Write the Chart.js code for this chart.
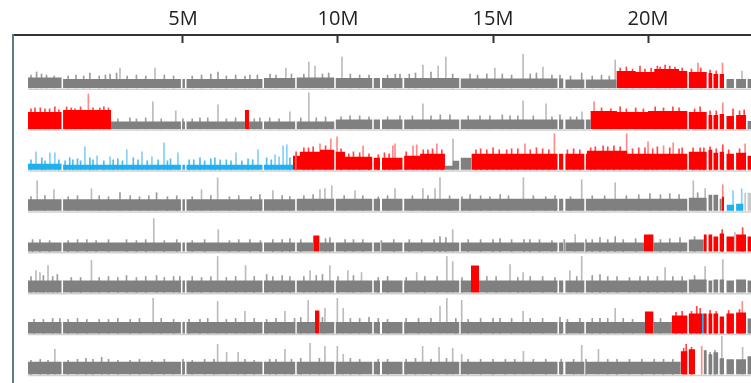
<!DOCTYPE html>
<html>
<head>
<meta charset="utf-8">
<script src="https://cdn.jsdelivr.net/npm/chart.js@4.4.0/dist/chart.umd.min.js"></script>
<style>
  html, body { margin: 0; padding: 0; background: #fff; }
</style>
</head>
<body>
<canvas id="chart" width="751" height="383"></canvas>
<script>
// axis
const tickValues = [5, 10, 15, 20];
const tickLabels = ['5M', '10M', '15M', '20M'];
const chromLength = 23.32;   // Mb
const xMin = -0.48;

// assembly gaps shared by all tracks [start, end] in Mb
const gaps = [
  [1.085, 1.135], [4.935, 4.985], [5.065, 5.115], [7.565, 7.615], [8.62, 8.67],
  [9.88, 9.93], [11.105, 11.155], [11.355, 11.42], [12.08, 12.135], [13.91, 13.96],
  [17.08, 17.13], [17.265, 17.335], [17.945, 17.995], [21.265, 21.315],
  [21.89, 21.95], [22.07, 22.11], [22.26, 22.31], [22.45, 22.53], [22.77, 22.84], [23.16, 23.21]
];

// segments: [start Mb, end Mb, depth, state]  g = normal, r = gain, b = loss, l = low
const track1Segments = [
  [0, 1.11, 10.5, 'g'], [1.11, 4.96, 9, 'g'], [4.96, 7.59, 9, 'g'], [7.59, 8.65, 10, 'g'],
  [8.65, 9.90, 10.5, 'g'], [9.90, 13.94, 10, 'g'], [13.94, 17.30, 9.5, 'g'], [17.30, 18.98, 8.5, 'g'],
  [18.98, 19.60, 17, 'r'], [19.60, 20.20, 16, 'r'], [20.20, 21.00, 19, 'r'], [21.00, 21.29, 17, 'r'],
  [21.29, 21.89, 16, 'r'], [21.95, 22.07, 15, 'r'], [22.11, 22.26, 14, 'r'], [22.31, 22.45, 14, 'r'],
  [22.53, 23.32, 9, 'g']
];
const track2Segments = [
  [0, 1.11, 17, 'r'], [1.11, 2.68, 19, 'r'], [2.68, 7.00, 7.5, 'g'], [7.00, 7.13, 19, 'r'],
  [7.13, 9.90, 7.5, 'g'], [9.90, 18.15, 9.5, 'g'], [18.15, 19.00, 18, 'r'], [19.00, 20.00, 17, 'r'],
  [20.00, 21.29, 18, 'r'], [21.29, 21.89, 17, 'r'], [21.95, 22.07, 14, 'r'], [22.11, 22.26, 14, 'r'],
  [22.31, 22.45, 15, 'r'], [22.53, 22.77, 13, 'r'], [22.84, 23.16, 14, 'r'], [23.21, 23.32, 8, 'g']
];
const track3Segments = [
  [0, 1.11, 6, 'b'], [1.11, 8.55, 5, 'b'], [8.55, 8.77, 14, 'r'], [8.77, 9.42, 18, 'r'],
  [9.42, 9.90, 20, 'r'], [9.90, 10.23, 18, 'r'], [10.23, 11.13, 13, 'r'], [11.13, 12.10, 12, 'r'],
  [12.10, 12.65, 14, 'r'], [12.65, 13.45, 16, 'r'], [13.45, 13.70, 4, 'g'], [13.70, 13.94, 9, 'g'],
  [13.94, 14.31, 12, 'g'], [14.31, 17.32, 16, 'r'], [17.32, 18.03, 16, 'r'], [18.03, 19.32, 19, 'r'],
  [19.32, 21.29, 16, 'r'], [21.29, 21.89, 18, 'r'], [21.95, 22.07, 20, 'r'], [22.11, 22.26, 17, 'r'],
  [22.31, 22.45, 18, 'r'], [22.53, 22.77, 16, 'r'], [22.84, 23.16, 17, 'r'], [23.21, 23.32, 14, 'r']
];
const track4Segments = [
  [0, 8.65, 11.5, 'g'], [8.65, 21.29, 12, 'g'], [21.29, 21.89, 13, 'g'], [21.95, 22.07, 16, 'g'],
  [22.11, 22.26, 16, 'g'], [22.31, 22.38, 12, 'g'], [22.38, 22.45, 14, 'r'], [22.53, 22.77, 6, 'b'],
  [22.84, 23.08, 7, 'b'], [23.10, 23.32, 18, 'l']
];
const track5Segments = [
  [0, 9.20, 9, 'g'], [9.20, 9.40, 16, 'r'], [9.40, 19.87, 9, 'g'], [19.87, 20.17, 17, 'r'],
  [20.17, 21.29, 9, 'g'], [21.29, 21.80, 12, 'g'], [21.80, 21.89, 17, 'r'], [21.95, 22.07, 17, 'r'],
  [22.11, 22.26, 15, 'r'], [22.31, 22.45, 18, 'r'], [22.53, 22.77, 15, 'r'], [22.84, 23.16, 17, 'r'],
  [23.21, 23.32, 15, 'r']
];
const track6Segments = [
  [0, 14.29, 12, 'g'], [14.29, 14.55, 27, 'r'], [14.55, 21.29, 12, 'g'], [21.29, 21.89, 13, 'g'],
  [21.95, 22.07, 12, 'g'], [22.11, 22.26, 13, 'g'], [22.31, 22.45, 13, 'g'], [22.53, 22.77, 12, 'g'],
  [22.84, 23.16, 13, 'g'], [23.21, 23.32, 12, 'g']
];
const track7Segments = [
  [0, 9.26, 11.5, 'g'], [9.26, 9.40, 23, 'r'], [9.40, 19.90, 11.5, 'g'], [19.90, 20.17, 22, 'r'],
  [20.17, 20.77, 11.5, 'g'], [20.77, 21.29, 18, 'r'], [21.29, 21.74, 20, 'r'], [21.74, 21.78, 20, 'b'],
  [21.78, 21.89, 20, 'r'], [21.95, 22.07, 20, 'r'], [22.11, 22.26, 20, 'r'], [22.31, 22.45, 17, 'r'],
  [22.53, 22.77, 20, 'r'], [22.84, 23.16, 21, 'r'], [23.21, 23.32, 15, 'g']
];
const track8Segments = [
  [0, 21.05, 12.5, 'g'], [21.05, 21.29, 23, 'r'], [21.29, 21.52, 25, 'r'], [21.80, 21.89, 24, 'g'],
  [21.95, 22.07, 20, 'g'], [22.11, 22.26, 22, 'g'], [22.31, 22.45, 16, 'g'], [22.53, 22.77, 15, 'g'],
  [22.84, 23.16, 15, 'g'], [23.21, 23.32, 18, 'g']
];

// single-bin peaks: [position Mb, depth, state (optional)]
const track1Spikes = [
  [0.10, 13], [0.28, 16], [0.44, 14], [0.60, 13], [0.85, 12], [1.30, 12], [1.55, 13], [1.80, 12],
  [2.00, 15], [2.30, 12], [2.50, 13], [2.65, 14], [2.86, 15], [2.97, 20], [3.20, 12], [3.50, 13],
  [3.80, 12], [4.10, 20], [4.40, 13], [4.70, 12], [5.30, 12], [5.60, 13], [5.90, 14], [6.13, 16],
  [6.40, 12], [6.70, 13], [7.00, 12], [7.16, 13], [7.40, 13], [7.81, 14], [8.00, 13], [8.32, 20],
  [8.50, 14], [8.90, 14], [9.06, 26], [9.26, 22], [9.50, 14], [9.70, 15], [10.13, 31], [10.40, 14],
  [10.70, 13], [11.00, 13], [11.60, 13], [11.85, 14], [12.00, 14], [12.30, 14], [12.50, 15], [12.74, 23],
  [13.00, 16], [13.23, 22], [13.48, 31], [13.70, 14], [14.26, 14], [14.50, 13], [14.80, 14], [15.06, 20],
  [15.30, 14], [15.60, 13], [15.97, 34], [16.20, 14], [16.40, 15], [16.61, 21], [16.90, 13], [17.16, 13],
  [17.50, 12], [17.86, 15], [18.20, 12], [18.50, 13], [18.75, 12], [18.94, 28], [19.10, 20], [19.30, 21],
  [19.50, 19], [19.74, 22], [19.90, 19], [20.10, 20], [20.30, 22], [20.39, 21], [20.55, 23], [20.70, 22],
  [20.87, 21], [21.10, 20], [21.40, 19], [21.61, 25], [21.70, 20], [22.00, 18], [22.20, 17], [22.40, 25],
  [23.03, 17]
];
const track2Spikes = [
  [0.10, 20], [0.23, 21], [0.40, 21], [0.55, 20], [0.70, 20], [0.87, 22], [1.00, 19], [1.25, 22],
  [1.40, 21], [1.52, 20], [1.70, 22], [1.95, 35], [2.10, 21], [2.32, 21], [2.45, 22], [2.60, 21],
  [2.90, 10], [3.29, 11], [3.50, 10], [3.80, 11], [4.03, 27], [4.30, 10], [4.77, 18], [5.00, 10],
  [5.30, 10], [5.55, 11], [5.80, 11], [6.13, 24], [6.40, 10], [6.70, 11], [7.30, 10], [7.48, 11],
  [7.80, 11], [8.10, 10], [8.45, 17], [8.80, 11], [9.06, 36], [9.30, 11], [9.60, 12], [10.10, 12],
  [10.39, 13], [10.70, 13], [11.00, 12], [11.60, 12], [12.00, 13], [12.40, 13], [12.74, 25], [13.00, 13],
  [13.30, 14], [13.61, 14], [14.20, 13], [14.58, 13], [14.90, 13], [15.30, 14], [15.55, 13], [15.80, 13],
  [15.97, 28], [16.30, 13], [16.71, 25], [16.90, 12], [17.16, 14], [17.50, 12], [17.70, 12], [17.87, 17],
  [18.26, 27], [18.50, 21], [18.80, 20], [19.10, 22], [19.30, 20], [19.60, 21], [19.85, 20], [20.23, 22],
  [20.50, 21], [20.80, 22], [21.00, 21], [21.50, 20], [21.68, 22], [22.00, 18], [22.20, 18], [22.41, 26],
  [22.74, 20], [22.95, 18], [23.10, 19]
];
const track3Spikes = [
  [0.10, 10], [0.26, 18], [0.45, 12], [0.55, 9], [0.71, 17], [0.87, 17], [1.00, 10], [1.20, 9],
  [1.35, 12], [1.45, 10], [1.60, 11], [1.70, 9], [1.84, 23], [2.00, 12], [2.10, 10], [2.23, 14],
  [2.45, 9], [2.65, 13], [2.75, 10], [2.90, 11], [3.05, 9], [3.19, 20], [3.40, 12], [3.55, 10],
  [3.68, 18], [3.85, 9], [4.00, 13], [4.20, 10], [4.39, 27], [4.50, 9], [4.60, 11], [4.84, 17],
  [5.20, 10], [5.35, 10], [5.55, 12], [5.70, 9], [5.90, 11], [6.03, 12], [6.20, 10], [6.40, 10],
  [6.55, 9], [6.71, 17], [6.90, 9], [7.10, 11], [7.25, 10], [7.42, 20], [7.70, 12], [7.85, 10],
  [7.97, 15], [8.10, 13], [8.23, 24], [8.35, 25], [8.45, 12], [8.65, 18], [8.90, 22], [9.05, 22],
  [9.20, 23], [9.42, 26], [9.60, 24], [9.77, 31], [9.97, 33], [10.10, 21], [10.35, 16], [10.50, 18],
  [10.70, 17], [10.81, 24], [11.00, 16], [11.30, 15], [11.50, 17], [11.65, 16], [11.77, 24], [11.84, 26],
  [12.20, 18], [12.42, 24], [12.54, 25], [12.75, 20], [12.90, 20], [13.05, 21], [13.19, 26], [13.35, 20],
  [13.71, 31], [14.45, 20], [14.60, 21], [14.80, 20], [15.00, 22], [15.20, 20], [15.44, 20], [15.60, 21],
  [15.80, 21], [16.03, 26], [16.20, 20], [16.40, 22], [16.60, 21], [16.80, 20], [16.98, 36], [17.40, 20],
  [17.60, 21], [17.80, 20], [18.15, 22], [18.30, 23], [18.55, 24], [18.70, 23], [18.90, 24], [19.10, 23],
  [19.31, 36], [19.50, 21], [19.70, 22], [19.90, 22], [20.00, 28], [20.15, 21], [20.30, 23], [20.50, 24],
  [20.70, 22], [20.81, 27], [21.00, 21], [21.10, 22], [21.45, 22], [21.68, 22], [21.80, 22], [22.00, 23],
  [22.20, 21], [22.41, 25], [22.60, 20], [22.95, 21], [23.13, 26]
];
const track4Spikes = [
  [0.10, 14], [0.30, 30], [0.55, 15], [0.84, 21], [1.30, 14], [1.60, 15], [2.05, 22], [2.30, 15],
  [2.60, 14], [2.97, 18], [3.30, 15], [3.60, 14], [3.90, 15], [4.15, 18], [4.50, 14], [4.80, 15],
  [5.30, 14], [5.60, 21], [5.90, 15], [6.12, 33], [6.50, 14], [6.80, 15], [7.20, 14], [7.48, 16],
  [7.90, 20], [8.20, 15], [8.45, 14], [8.90, 15], [9.20, 16], [9.42, 21], [9.58, 22], [9.80, 25],
  [10.20, 15], [10.55, 20], [10.80, 15], [11.30, 14], [11.60, 15], [11.84, 22], [12.40, 15], [12.74, 22],
  [12.90, 15], [13.13, 22], [13.29, 33], [13.60, 15], [14.00, 14], [14.26, 16], [14.60, 15], [14.90, 14],
  [15.23, 16], [15.50, 15], [15.98, 33], [16.30, 15], [16.70, 14], [17.00, 15], [17.50, 14], [17.86, 31],
  [18.20, 15], [18.60, 15], [18.94, 28], [19.30, 15], [19.70, 16], [20.06, 17], [20.40, 16], [20.70, 17],
  [21.00, 16], [21.46, 30], [21.60, 18], [21.84, 22], [22.41, 26], [22.74, 20], [23.02, 22]
];
const track5Spikes = [
  [0.15, 12], [0.39, 12], [0.70, 11], [1.30, 11], [1.60, 12], [1.90, 12], [2.20, 11], [2.60, 12],
  [3.18, 12], [3.50, 11], [3.80, 12], [4.06, 33], [4.40, 11], [4.80, 12], [5.30, 11], [5.70, 12],
  [6.14, 22], [6.50, 11], [6.80, 12], [7.16, 12], [7.50, 11], [7.90, 12], [8.20, 12], [8.45, 13],
  [8.80, 12], [9.60, 13], [9.74, 14], [10.23, 12], [10.50, 12], [10.80, 12], [11.40, 11], [11.80, 12],
  [12.30, 12], [12.70, 12], [13.10, 12], [13.29, 15], [13.48, 14], [13.70, 22], [14.20, 12], [14.60, 12],
  [15.00, 12], [15.23, 13], [15.60, 12], [16.00, 12], [16.19, 12], [16.50, 12], [16.90, 11], [17.30, 12],
  [17.65, 17], [18.00, 12], [18.20, 12], [18.45, 14], [18.70, 12], [18.94, 15], [19.20, 12], [19.60, 13],
  [20.40, 12], [20.70, 13], [21.03, 14], [21.50, 15], [22.39, 22], [22.80, 19], [23.05, 24]
];
const track6Spikes = [
  [0.10, 16], [0.26, 22], [0.39, 20], [0.50, 17], [0.65, 27], [0.80, 16], [0.95, 18], [1.40, 15],
  [1.70, 15], [2.05, 32], [2.30, 15], [2.60, 16], [2.90, 15], [3.18, 17], [3.50, 15], [3.80, 16],
  [4.15, 17], [4.40, 15], [4.70, 16], [4.90, 16], [5.30, 16], [5.60, 15], [5.90, 16], [6.12, 36],
  [6.40, 15], [6.70, 16], [7.02, 27], [7.30, 16], [7.70, 18], [7.90, 16], [8.20, 17], [8.45, 16],
  [8.90, 16], [9.10, 22], [9.30, 17], [9.50, 18], [9.74, 27], [10.00, 16], [10.32, 22], [10.50, 17],
  [10.76, 20], [11.30, 15], [11.60, 16], [12.20, 15], [12.54, 20], [12.80, 16], [13.20, 16], [13.51, 36],
  [13.70, 31], [14.00, 15], [14.80, 16], [15.10, 16], [15.55, 28], [15.80, 15], [15.97, 20], [16.20, 16],
  [16.60, 16], [17.00, 15], [17.48, 22], [17.70, 16], [17.86, 36], [18.20, 17], [18.45, 18], [18.70, 16],
  [19.00, 16], [19.40, 15], [19.74, 16], [20.00, 16], [20.30, 16], [20.55, 25], [20.80, 16], [21.10, 16],
  [21.50, 17], [21.84, 26], [22.41, 33]
];
const track7Spikes = [
  [0.20, 14], [0.50, 14], [0.80, 15], [1.03, 15], [1.30, 14], [1.60, 15], [1.90, 14], [2.30, 14],
  [2.60, 14], [2.90, 15], [3.30, 14], [3.60, 15], [4.04, 35], [4.30, 15], [4.70, 14], [5.20, 14],
  [5.55, 14], [5.80, 15], [6.12, 32], [6.40, 14], [6.70, 15], [7.00, 22], [7.30, 15], [7.70, 14],
  [8.00, 15], [8.29, 22], [8.60, 15], [8.80, 16], [9.04, 33], [9.50, 16], [9.58, 25], [9.98, 35],
  [10.17, 25], [10.40, 15], [10.70, 15], [11.00, 16], [11.30, 15], [11.60, 14], [12.20, 15], [12.60, 15],
  [13.00, 15], [13.29, 27], [13.51, 35], [13.80, 15], [13.99, 33], [14.20, 14], [14.60, 15], [15.00, 15],
  [15.23, 15], [15.60, 15], [15.97, 22], [16.20, 15], [16.60, 15], [17.16, 16], [17.40, 14], [17.80, 15],
  [18.20, 15], [18.45, 15], [18.70, 15], [18.94, 25], [19.20, 15], [19.50, 14], [20.40, 15], [20.90, 21],
  [21.10, 22], [21.40, 22], [21.57, 27], [21.68, 25], [22.00, 23], [22.20, 22], [22.60, 23], [22.95, 24],
  [23.04, 32]
];
const track8Spikes = [
  [0.10, 14], [0.40, 15], [0.65, 14], [0.87, 25], [1.30, 14], [1.60, 15], [1.87, 16], [2.10, 15],
  [2.38, 17], [2.60, 15], [2.90, 14], [3.30, 14], [3.60, 15], [4.00, 14], [4.40, 15], [4.69, 12],
  [5.00, 15], [5.30, 14], [5.70, 15], [6.00, 15], [6.12, 30], [6.41, 22], [6.78, 22], [7.00, 15],
  [7.30, 14], [7.80, 15], [8.00, 15], [8.29, 25], [8.50, 15], [8.80, 16], [9.10, 31], [9.40, 16],
  [9.58, 28], [9.98, 28], [10.17, 20], [10.40, 16], [10.70, 15], [11.30, 15], [11.60, 15], [12.20, 15],
  [12.50, 16], [12.73, 28], [13.00, 15], [13.26, 27], [13.50, 16], [13.70, 26], [13.99, 20], [14.20, 15],
  [14.60, 15], [15.00, 15], [15.40, 15], [15.70, 15], [15.98, 23], [16.30, 15], [16.70, 15], [17.20, 15],
  [17.60, 15], [17.86, 29], [18.00, 15], [18.40, 25], [18.70, 15], [19.00, 15], [19.40, 15], [19.80, 15],
  [20.20, 15], [20.50, 15], [20.80, 15], [21.15, 26], [21.23, 30], [21.40, 27], [21.73, 28, 'r'], [22.00, 22],
  [22.16, 24], [22.38, 38], [23.05, 27]
];

const tracks = [
  { segments: track1Segments, spikes: track1Spikes },
  { segments: track2Segments, spikes: track2Spikes },
  { segments: track3Segments, spikes: track3Spikes },
  { segments: track4Segments, spikes: track4Spikes },
  { segments: track5Segments, spikes: track5Spikes },
  { segments: track6Segments, spikes: track6Spikes },
  { segments: track7Segments, spikes: track7Spikes },
  { segments: track8Segments, spikes: track8Spikes }
];

const fillColors = { g: '#808080', r: '#ff0000', b: '#1fb0f0', l: '#c8c8c8' };
// thin peaks look lighter the taller they are
const spikeLight = { g: '#bcbcbc', r: '#ff8a8a', b: '#86cff5', l: '#dcdcdc' };
const spikeMid = { g: '#9c9c9c', r: '#ff4545', b: '#4fbdf2', l: '#d0d0d0' };

// vertical layout, in y units (1 unit = 1px)
const TOP_BASE = 295;
const TRACK_STEP = 40.9;

// remove assembly gaps from a segment
function cutGaps(a, b) {
  let pieces = [[a, b]];
  gaps.forEach(([g0, g1]) => {
    pieces = pieces.flatMap(([p, q]) => {
      if (g1 <= p || g0 >= q) return [[p, q]];
      const out = [];
      if (g0 > p) out.push([p, g0]);
      if (g1 < q) out.push([g1, q]);
      return out;
    });
  });
  return pieces;
}

function segmentAt(segments, x) {
  return segments.find(s => x >= s[0] && x <= s[1]);
}

function spikeColor(segments, spike) {
  const seg = segmentAt(segments, spike[0]);
  const state = spike[2] || (seg ? seg[3] : 'g');
  const body = seg ? seg[2] : 0;
  return spike[1] - body > 7 ? spikeLight[state] : spikeMid[state];
}

const datasets = [];
tracks.forEach((t, i) => {
  const base = TOP_BASE - i * TRACK_STEP;

  // faint baseline under each track
  datasets.push({
    type: 'line',
    data: [{ x: 0, y: base - 1.2 }, { x: chromLength, y: base - 1.2 }],
    borderColor: '#d0d0d0',
    borderWidth: 1.5,
    pointRadius: 0,
    order: 5
  });

  ['g', 'l', 'b', 'r'].forEach(state => {
    const pts = [];
    t.segments.filter(s => s[3] === state).forEach(([a, b, h]) => {
      cutGaps(a, b).forEach(([p, q]) => {
        pts.push({ x: p, y: base + h }, { x: q, y: base });
      });
    });
    if (!pts.length) return;
    datasets.push({
      type: 'line',
      data: pts,
      stepped: true,
      fill: { value: base },
      backgroundColor: fillColors[state],
      borderColor: 'rgba(0,0,0,0)',
      borderWidth: 0,
      pointRadius: 0,
      order: 1
    });
  });

  datasets.push({
    type: 'bar',
    data: t.spikes.map(([x, h]) => ({ x: x, y: [base, base + h] })),
    backgroundColor: t.spikes.map(s => spikeColor(t.segments, s)),
    barThickness: 1,
    grouped: false,
    order: 3
  });
});

const chart = new Chart(document.getElementById('chart'), {
  type: 'line',
  data: { datasets: datasets },
  options: {
    responsive: false,
    animation: false,
    events: [],
    layout: { padding: 0 },
    plugins: {
      legend: { display: false },
      tooltip: { enabled: false }
    },
    scales: {
      x: {
        type: 'linear',
        position: 'top',
        offset: false,
        min: xMin,
        max: chromLength,
        afterBuildTicks: scale => {
          scale.ticks = tickValues.map(v => ({ value: v }));
        },
        afterFit: scale => { scale.height = 35; },
        ticks: {
          callback: v => tickLabels[tickValues.indexOf(v)],
          font: { family: 'Open Sans', size: 20 },
          color: '#222',
          padding: 12,
          maxRotation: 0,
          autoSkip: false
        },
        grid: {
          offset: false,
          drawOnChartArea: false,
          tickLength: -8,
          tickWidth: 2,
          tickColor: '#333'
        },
        border: { color: '#333', width: 2 }
      },
      y: {
        type: 'linear',
        min: 0,
        max: 348,
        afterFit: scale => { scale.width = 13; },
        ticks: { display: false },
        grid: { display: false, drawTicks: false },
        border: { color: '#5f7d7d', width: 2 }
      }
    }
  }
});
</script>
</body>
</html>
